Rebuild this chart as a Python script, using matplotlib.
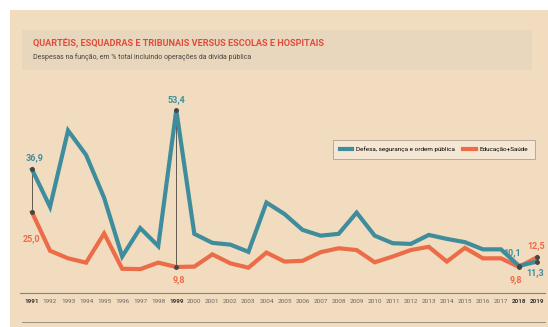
import matplotlib
matplotlib.use("Agg")
import matplotlib.pyplot as plt
from matplotlib.patches import Rectangle

years = list(range(1991, 2020))
defesa = [36.9, 26.5, 47.7, 40.9, 29.0, 12.7, 20.6, 15.6, 53.4, 19.0,
          16.5, 16.0, 14.0, 27.7, 24.5, 20.1, 18.5, 19.0, 24.9, 18.5,
          16.4, 16.2, 18.7, 17.6, 16.7, 14.7, 14.7, 10.1, 11.3]
educ_saude = [25.0, 14.3, 12.2, 11.0, 19.1, 9.3, 9.2, 11.0, 9.8, 9.9,
              13.3, 10.8, 9.6, 13.8, 11.3, 11.5, 13.9, 15.0, 14.5, 11.1,
              12.7, 14.5, 15.4, 11.3, 15.1, 12.2, 12.2, 9.8, 12.5]
bold_years = [1991, 1999, 2018, 2019]

BLUE = "#3f8d9c"
ORANGE = "#ec6c48"
PAPER = "#f1dcc0"
FONT = ["Roboto", "DejaVu Sans"]

W, H = 548, 327
fig = plt.figure(figsize=(W / 100, H / 100), dpi=100)
fig.patch.set_facecolor("white")
fig.patches.append(Rectangle((10 / W, 0), 1, 1 - 10 / H, transform=fig.transFigure,
                             facecolor=PAPER, edgecolor="none", zorder=-10))
# slightly darker title band
fig.patches.append(Rectangle((22 / W, 1 - 70 / H), 510 / W, 40 / H, transform=fig.transFigure,
                             facecolor="#e9d7bd", edgecolor="none", zorder=-9))

# axes: x 20..545 px, y 95..293 px
ax = fig.add_axes([20 / W, 1 - 293 / H, 525 / W, 198 / H])
ax.set_facecolor("none")
ax.set_xlim(1990.335, 2019.443)
ax.set_ylim(2.57, 57.57)
for s in ["top", "right", "left"]:
    ax.spines[s].set_visible(False)
ax.spines["bottom"].set_color("#8a8170")
ax.spines["bottom"].set_linewidth(0.8)
ax.set_yticks([])
ax.set_xticks(years)
ax.tick_params(axis="x", length=0, pad=4)
ax.set_xticklabels([str(y) for y in years])
for lab, y in zip(ax.get_xticklabels(), years):
    lab.set_fontsize(4.6)
    lab.set_family(FONT)
    lab.set_color("#3a3530" if y in bold_years else "#6e665c")
    lab.set_fontweight("bold" if y in bold_years else "normal")

# connectors for highlighted years
for i in [0, 8]:
    ax.plot([years[i], years[i]], [educ_saude[i], defesa[i]], color="#4a4440", lw=0.6, zorder=1)

ax.plot(years, defesa, color=BLUE, lw=3, solid_joinstyle="miter", label="Defesa, segurança e ordem pública", zorder=3)
ax.plot(years, educ_saude, color=ORANGE, lw=3, solid_joinstyle="miter", label="Educação+Saúde", zorder=2)

for i in [0, 8, 27, 28]:
    ax.plot(years[i], defesa[i], "o", color="#4a4440", ms=2.5, zorder=4)
    ax.plot(years[i], educ_saude[i], "o", color="#4a4440", ms=2.5, zorder=4)

def fmt(v):
    return f"{v:.1f}".replace(".", ",")

lab_kw = dict(fontsize=6.5, fontweight="bold", family=FONT)
ax.annotate(fmt(defesa[0]), (years[0], defesa[0]), xytext=(2, 5), textcoords="offset points",
            ha="center", va="bottom", color=BLUE, **lab_kw)
ax.annotate(fmt(educ_saude[0]), (years[0], educ_saude[0]), xytext=(0, -16), textcoords="offset points",
            ha="center", va="top", color=ORANGE, **lab_kw)
ax.annotate(fmt(defesa[8]), (years[8], defesa[8]), xytext=(0, 4), textcoords="offset points",
            ha="center", va="bottom", color=BLUE, **lab_kw)
ax.annotate(fmt(educ_saude[8]), (years[8], educ_saude[8]), xytext=(2, -6), textcoords="offset points",
            ha="center", va="top", color=ORANGE, **lab_kw)
ax.annotate(fmt(defesa[27]), (years[27], defesa[27]), xytext=(-5, 6), textcoords="offset points",
            ha="center", va="bottom", color=BLUE, **lab_kw)
ax.annotate(fmt(educ_saude[27]), (years[27], educ_saude[27]), xytext=(-2, -6), textcoords="offset points",
            ha="center", va="top", color=ORANGE, **lab_kw)
ax.annotate(fmt(educ_saude[28]), (years[28], educ_saude[28]), xytext=(-1, 5), textcoords="offset points",
            ha="center", va="bottom", color=ORANGE, **lab_kw)
ax.annotate(fmt(defesa[28]), (years[28], defesa[28]), xytext=(-1, -5), textcoords="offset points",
            ha="center", va="top", color=BLUE, **lab_kw)

leg = ax.legend(loc="upper left", bbox_to_anchor=(310 / 525, (293 - 137) / 198), ncol=2,
                prop={"family": FONT, "size": 4.6}, frameon=True, fancybox=False,
                handlelength=2.0, columnspacing=1.3, borderpad=1.0, handletextpad=0.6)
leg.get_frame().set_facecolor("#f7ead8")
leg.get_frame().set_edgecolor("#9a9080")
leg.get_frame().set_linewidth(0.6)

fig.text(33 / W, 1 - 43 / H, "QUARTÉIS, ESQUADRAS E TRIBUNAIS VERSUS ESCOLAS E HOSPITAIS",
         color="#df4a3c", fontsize=6.6, fontweight="bold", family=FONT, va="center")
fig.text(33 / W, 1 - 57 / H, "Despesas na função, em % total incluindo operações da dívida pública",
         color="#4a4440", fontsize=5, family=FONT, va="center")

# bottom rule
fig.add_artist(plt.Line2D([22 / W, 545 / W], [1 - 322 / H, 1 - 322 / H], color="#9a9080", lw=0.7))

fig.savefig("out.png", dpi=100)
